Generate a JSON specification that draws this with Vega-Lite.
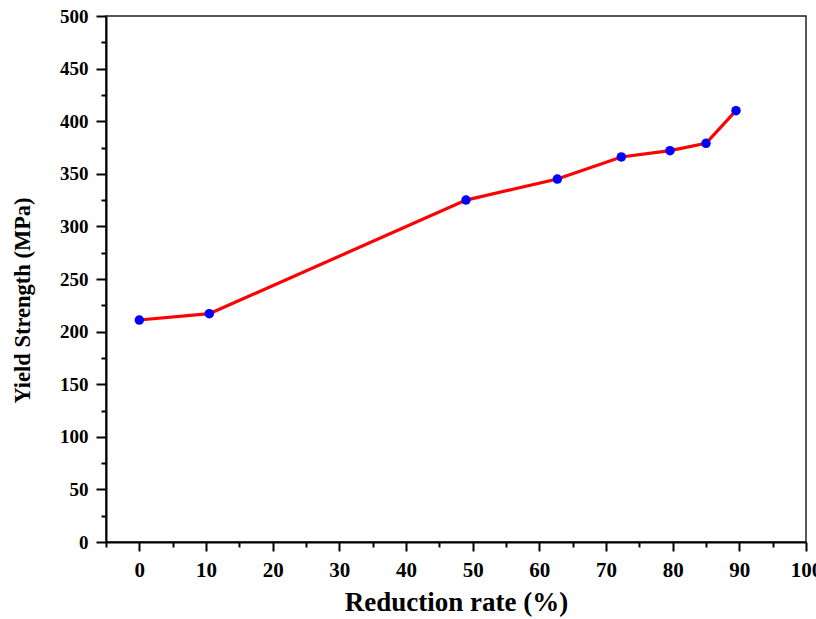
{
  "$schema": "https://vega.github.io/schema/vega-lite/v6.json",
  "autosize": {"type": "none"},
  "padding": {"left": 106, "top": 16, "right": 10, "bottom": 77},
  "width": 700,
  "height": 526,
  "background": "white",
  "config": {
    "view": {"stroke": "#222", "strokeWidth": 1.5},
    "axis": {
      "labelFont": "Liberation Serif",
      "titleFont": "Liberation Serif",
      "labelFontWeight": "bold",
      "titleFontWeight": "bold",
      "labelColor": "black",
      "titleColor": "black",
      "domainColor": "black",
      "tickColor": "black",
      "domainWidth": 2,
      "tickWidth": 2,
      "grid": false
    }
  },
  "data": {
    "values": [
      {"rate": 0, "ys": 211},
      {"rate": 10.5, "ys": 217},
      {"rate": 49, "ys": 325},
      {"rate": 62.7, "ys": 345},
      {"rate": 72.3, "ys": 366},
      {"rate": 79.6, "ys": 372},
      {"rate": 85, "ys": 379},
      {"rate": 89.5, "ys": 410}
    ]
  },
  "encoding": {
    "x": {
      "field": "rate",
      "type": "quantitative",
      "scale": {"domain": [-5, 100], "nice": false, "zero": false},
      "axis": {
        "title": "Reduction rate (%)",
        "values": [-5, 0, 5, 10, 15, 20, 25, 30, 35, 40, 45, 50, 55, 60, 65, 70, 75, 80, 85, 90, 95, 100],
        "labelExpr": "datum.value % 10 === 0 ? datum.label : ''",
        "tickSize": {"condition": {"test": "datum.value % 10 === 0", "value": 9}, "value": 5},
        "labelFontSize": 21,
        "titleFontSize": 27,
        "labelPadding": 8,
        "titlePadding": 9,
        "labelFlush": false,
        "labelOverlap": false
      }
    },
    "y": {
      "field": "ys",
      "type": "quantitative",
      "scale": {"domain": [0, 500], "nice": false},
      "axis": {
        "title": "Yield Strength (MPa)",
        "titleY": 284,
        "values": [0, 25, 50, 75, 100, 125, 150, 175, 200, 225, 250, 275, 300, 325, 350, 375, 400, 425, 450, 475, 500],
        "labelExpr": "datum.value % 50 === 0 ? datum.label : ''",
        "tickSize": {"condition": {"test": "datum.value % 50 === 0", "value": 10}, "value": 5},
        "labelFontSize": 19,
        "titleFontSize": 22.5,
        "labelPadding": 8,
        "titlePadding": 25,
        "labelFlush": false,
        "labelOverlap": false
      }
    }
  },
  "layer": [
    {"mark": {"type": "line", "color": "#ff0000", "strokeWidth": 3.2}},
    {"mark": {"type": "point", "filled": true, "shape": "circle", "color": "#0000ff", "size": 90, "opacity": 1}}
  ]
}
